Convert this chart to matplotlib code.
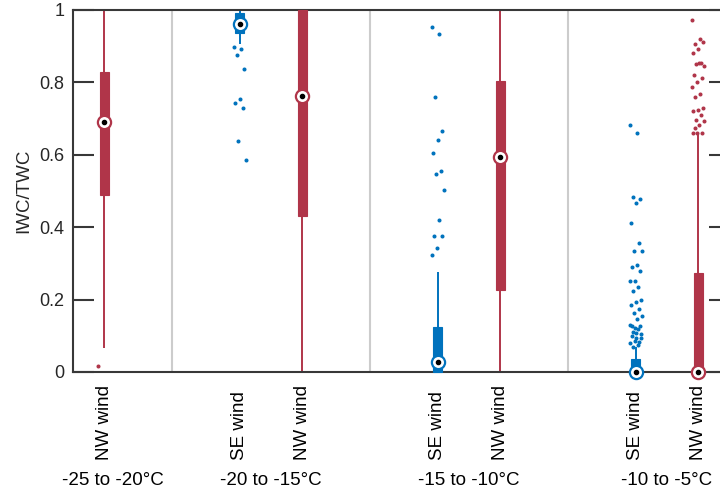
import matplotlib
matplotlib.use("Agg")
import matplotlib.pyplot as plt
import numpy as np

plt.rcParams['font.family'] = ['Liberation Sans', 'DejaVu Sans']

# ---- data ----
group_labels = ["-25 to -20°C", "-20 to -15°C", "-15 to -10°C", "-10 to -5°C"]
box_group = [0, 1, 1, 2, 2, 3, 3]
box_wind = ["NW", "SE", "NW", "SE", "NW", "SE", "NW"]

q1 = [0.489, 0.937, 0.43, 0.0, 0.226, 0.0, 0.0]
med = [0.691, 0.961, 0.762, 0.028, 0.594, 0.0, 0.0]
q3 = [0.829, 0.992, 1.0, 0.124, 0.805, 0.036, 0.274]
whisk_lo = [0.066, 0.906, 0.0, 0.0, 0.0, 0.0, 0.0]
whisk_hi = [1.0, 1.0, 1.0, 0.275, 1.0, 0.07, 0.66]

outliers = [
    [0.017],
    [0.898, 0.893, 0.876, 0.837, 0.755, 0.744, 0.73, 0.637, 0.587],
    [],
    [0.953, 0.934, 0.760, 0.667, 0.642, 0.606, 0.554, 0.548, 0.504,
     0.419, 0.375, 0.375, 0.342, 0.322],
    [],
    [0.683, 0.661, 0.483, 0.478, 0.467, 0.412, 0.356, 0.334, 0.334, 0.296,
     0.290, 0.279, 0.251, 0.251, 0.235, 0.224, 0.199, 0.193, 0.185, 0.174,
     0.163, 0.155, 0.146, 0.127, 0.127, 0.121, 0.130, 0.119, 0.110, 0.105,
     0.108, 0.099, 0.083, 0.086, 0.080, 0.075, 0.069, 0.094, 0.094],
    [0.972, 0.920, 0.906, 0.912, 0.892, 0.881, 0.854, 0.851, 0.845, 0.854,
     0.820, 0.812, 0.801, 0.787, 0.768, 0.760, 0.729, 0.724, 0.721, 0.710,
     0.696, 0.693, 0.682, 0.674, 0.660, 0.660, 0.660],
]

# ---- style ----
colors = {"NW": "#B03549", "SE": "#0072BD"}
axis_col = "#383838"
offset = 0.157
box_w = 0.045
jit = 0.032

fig = plt.figure(figsize=(7.2, 4.95), dpi=100)
ax = fig.add_axes([73 / 720, 123 / 495, 657 / 720, 362 / 495])

for sep in [1.5, 2.5, 3.5]:
    ax.axvline(sep, color="#cccccc", lw=1.5, zorder=0)

xpos = []
for i in range(len(box_group)):
    c = colors[box_wind[i]]
    x = box_group[i] + 1 + (offset if box_wind[i] == "NW" else -offset)
    xpos.append(x)
    ax.vlines(x, whisk_lo[i], whisk_hi[i], color=c, lw=1.4, zorder=2)
    ax.bar(x, q3[i] - q1[i], bottom=q1[i], width=box_w, color=c,
           edgecolor=c, lw=0.8, zorder=3, clip_on=False)
    if outliers[i]:
        n = len(outliers[i])
        dx = [((k * 0.618034) % 1 - 0.5) * 2 * jit for k in range(n)]
        ax.plot(np.array(dx) + x, outliers[i], ls="none", marker="o",
                ms=1.9, color=c, mec=c, zorder=4)
    ax.plot(x, med[i], marker="o", ms=9.5, mfc="white", mec=c, mew=1.6,
            zorder=5, clip_on=False)
    ax.plot(x, med[i], marker="o", ms=3.0, color="black", zorder=6,
            clip_on=False)

ax.set_xlim(1.0, 4.318)
ax.set_ylim(0, 1)
ax.set_xticks([])
ax.set_yticks([0, 0.2, 0.4, 0.6, 0.8, 1.0])
ax.set_yticklabels(["0", "0.2", "0.4", "0.6", "0.8", "1"])
ax.tick_params(axis="y", direction="in", length=15, width=1.5,
               color=axis_col, labelsize=13, labelcolor="#262626",
               right=True, pad=6)
for s in ax.spines.values():
    s.set_color(axis_col)
    s.set_linewidth(1.5)

ax.set_ylabel("IWC/TWC", fontsize=13.5, color="#262626")
ax.yaxis.set_label_coords(-41 / 657, 0.5)

# wind labels under each box, and temperature ranges
trans = ax.get_xaxis_transform()
for i, x in enumerate(xpos):
    ax.text(x, -0.243, box_wind[i] + " wind", rotation=90, ha="center",
            va="bottom", fontsize=13.5, color="black", transform=trans)
label_x = [1.2, 2, 3, 4]
for g, lab in enumerate(group_labels):
    ax.text(label_x[g], -0.301, lab, ha="center", va="center",
            fontsize=13.5, color="black", transform=trans)

fig.savefig("out.png", dpi=100)
